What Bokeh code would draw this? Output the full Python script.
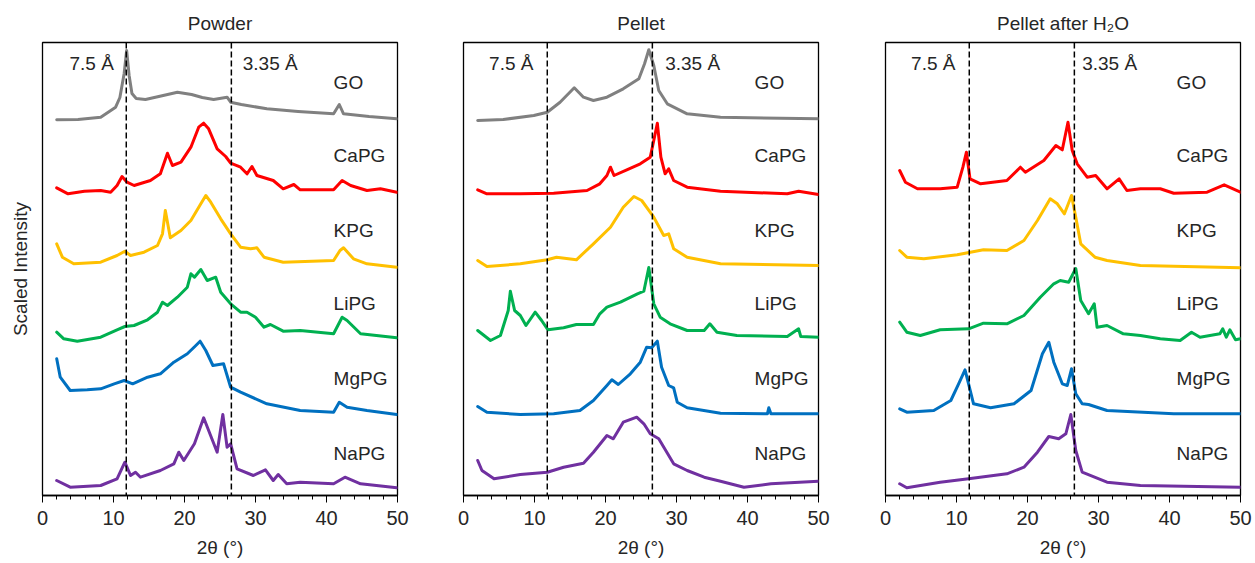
from bokeh.plotting import figure
from bokeh.layouts import row
from bokeh.models import Span, Label, FixedTicker, Range1d
from bokeh.embed import file_html
from bokeh.resources import INLINE

# ---------------- data ----------------
samples = ["GO", "CaPG", "KPG", "LiPG", "MgPG", "NaPG"]
colors = ["#808080", "#FF0000", "#FFC000", "#00B050", "#0070C0", "#7030A0"]
label_y = [413, 340, 265, 192, 117, 42]
panel_titles = ["Powder", "Pellet", "Pellet after H\u2082O"]
d_labels = ["7.5 \u00c5", "3.35 \u00c5"]
d_two_theta = [11.8, 26.6]
x_ticks = [0, 10, 20, 30, 40, 50]
x_title = "2\u03b8 (\u00b0)"
y_title = "Scaled Intensity"

# Powder
powder_GO_x = [2.0, 5.0, 8.2, 10.3, 10.9, 11.5, 11.85, 12.2, 12.6, 13.2, 14.5, 17.0, 19.0, 21.0, 22.5, 24.1, 26.0, 26.5, 28.0, 31.6, 36.0, 41.0, 41.8, 42.4, 46.0, 49.9]
powder_GO_y = [375.7, 376, 378.3, 388.3, 398, 422, 445, 420, 402, 397, 396, 400, 403.3, 401, 398, 396, 398.3, 393.3, 391, 386.7, 384, 381.7, 391, 381.7, 379, 376.7]
powder_CaPG_x = [2.0, 3.6, 5.9, 8.2, 9.6, 10.5, 11.2, 11.9, 12.9, 15.2, 16.6, 17.6, 18.3, 19.5, 20.9, 22.0, 22.7, 23.4, 24.6, 25.8, 26.5, 27.9, 28.8, 29.5, 30.2, 32.5, 33.9, 35.4, 36.3, 41.0, 42.2, 43.4, 45.7, 47.6, 49.9]
powder_CaPG_y = [307.7, 301.7, 304.3, 305, 303.3, 310, 319, 313.3, 310, 315, 321.7, 342.3, 330, 333.3, 348.3, 368.3, 372.3, 366.7, 346.7, 339, 332.3, 328.3, 321.7, 329, 320, 315, 306.7, 311, 305.7, 305.7, 315, 310, 305, 306.7, 303.3]
powder_KPG_x = [2.0, 2.8, 4.4, 8.2, 10.5, 11.6, 12.4, 14.3, 16.2, 16.9, 17.3, 18.0, 19.5, 20.9, 22.3, 23.0, 23.7, 25.1, 26.5, 27.9, 29.3, 30.2, 31.2, 33.9, 41.0, 41.9, 42.4, 43.8, 45.7, 49.9]
powder_KPG_y = [251.7, 238.3, 231.7, 233.3, 240, 244.3, 240, 243.3, 250, 261.7, 285, 257.7, 265, 275, 291.7, 300, 293.3, 276.7, 261.7, 248.3, 246.7, 247.7, 238.3, 233.3, 235, 245, 247.7, 236.7, 231.7, 228.3]
powder_LiPG_x = [2.0, 3.0, 4.9, 8.2, 10.5, 11.6, 12.9, 14.8, 16.2, 16.9, 17.6, 19.0, 20.4, 20.9, 21.4, 22.3, 23.2, 24.4, 25.1, 26.5, 27.9, 28.8, 30.0, 31.2, 32.1, 33.9, 36.3, 41.0, 42.2, 42.9, 44.8, 49.9]
powder_LiPG_y = [163.3, 156.7, 154.3, 158.3, 165.7, 169, 170, 175.7, 183.3, 193.3, 190, 198.3, 208.3, 221.7, 218.3, 226, 215, 218.3, 203.3, 191.7, 183.3, 183.3, 178.3, 168.3, 171, 164.3, 165, 161.7, 178.3, 175, 161.7, 157.7]
powder_MgPG_x = [2.0, 2.5, 3.9, 6.3, 8.2, 10.1, 11.5, 12.7, 14.8, 16.6, 18.5, 20.4, 21.6, 22.2, 23.0, 24.0, 25.5, 26.5, 27.9, 31.6, 36.3, 41.0, 41.8, 42.9, 45.7, 49.9]
powder_MgPG_y = [136.7, 118.3, 105, 105.7, 106.7, 111.7, 115, 111.7, 118.3, 121.7, 133.3, 141.7, 150, 154.3, 145, 130, 131.7, 108.3, 103.3, 91.7, 85, 83.3, 93.3, 88.3, 85, 81]
powder_NaPG_x = [2.0, 3.9, 8.2, 10.5, 11.6, 12.4, 13.1, 13.8, 16.6, 18.5, 19.2, 19.9, 21.4, 22.7, 23.4, 24.6, 25.4, 26.0, 26.5, 27.4, 29.7, 31.4, 32.5, 33.2, 34.4, 36.3, 41.0, 42.6, 44.8, 49.9]
powder_NaPG_y = [15, 8.3, 10, 16.7, 33.3, 20, 23.3, 18.3, 25, 31.7, 43.3, 35, 51.7, 77.7, 65, 43.3, 81, 48.3, 51.7, 26.7, 20, 25.7, 15, 21, 11.7, 13.3, 11.7, 18.3, 11.7, 7.7]

# Pellet
pellet_GO_x = [2.0, 5.6, 9.9, 11.8, 13.6, 15.6, 16.9, 18.3, 20.2, 22.5, 24.7, 25.5, 26.1, 26.8, 27.5, 28.7, 31.5, 36.2, 50.0]
pellet_GO_y = [375, 376, 380, 383.3, 393.3, 407.7, 398.3, 395, 398.3, 406.7, 416.7, 431.7, 445.7, 430, 405, 391.7, 381.7, 378.3, 376.7]
pellet_CaPG_x = [2.0, 3.3, 8.0, 12.7, 17.4, 19.2, 20.2, 20.7, 21.2, 23.0, 24.9, 26.3, 26.8, 27.3, 27.8, 28.4, 28.9, 29.6, 31.5, 36.2, 45.6, 47.2, 50.0]
pellet_CaPG_y = [305.7, 301.7, 301.7, 302.3, 305, 311.7, 320, 328.3, 320, 325.7, 331.7, 338.3, 355, 372.3, 338.3, 321.7, 326.7, 315, 308.3, 304.3, 301.7, 304.3, 301]
pellet_KPG_x = [2.0, 3.3, 8.0, 11.8, 13.1, 15.9, 18.3, 20.7, 22.5, 24.0, 25.1, 26.8, 28.2, 28.9, 29.6, 31.5, 36.2, 50.0]
pellet_KPG_y = [235, 229, 231.7, 235.7, 238.3, 235.7, 251.7, 268.3, 288.3, 299, 295, 278.3, 260, 261.7, 246.7, 238.3, 231.7, 230]
pellet_LiPG_x = [2.0, 3.8, 5.2, 6.3, 6.6, 7.2, 8.0, 8.8, 10.1, 11.0, 11.9, 14.1, 15.9, 18.3, 19.2, 20.2, 22.1, 24.5, 25.4, 26.1, 26.8, 27.7, 29.1, 31.5, 33.9, 34.7, 35.7, 38.5, 45.6, 47.2, 47.5, 50.0]
pellet_LiPG_y = [165, 155, 160, 185, 204.3, 185, 180, 170, 183.3, 175, 165.7, 167.7, 171, 171, 181.7, 188.3, 193.3, 201.7, 204.3, 228, 191.7, 178.3, 171.7, 165, 165, 171.7, 163.3, 160, 159, 166.7, 159, 158.3]
pellet_MgPG_x = [2.0, 3.3, 8.0, 12.7, 16.4, 18.3, 20.2, 20.9, 21.8, 23.5, 24.9, 25.8, 26.5, 27.3, 27.9, 28.9, 29.6, 30.1, 31.5, 36.2, 42.8, 43.0, 43.3, 50.0]
pellet_MgPG_y = [89, 83.3, 81, 81.7, 85, 95, 110, 115.7, 111, 121.7, 133.3, 148.3, 147.7, 154.3, 128.3, 110, 107.7, 93.3, 87.7, 82.3, 81.7, 87.7, 81.7, 81.7]
pellet_NaPG_x = [2.0, 2.6, 4.3, 8.0, 11.8, 14.1, 16.9, 18.3, 20.2, 21.1, 22.5, 24.4, 25.4, 26.3, 27.5, 29.6, 31.5, 33.9, 36.2, 39.5, 43.3, 50.0]
pellet_NaPG_y = [35, 25, 16.7, 21, 23.3, 28.3, 32.3, 43.3, 60, 56.7, 73.3, 78.3, 71.7, 61.7, 56.7, 31.7, 25, 18.3, 14.3, 8.3, 11.7, 14.3]

# Pellet after H2O (no GO trace)
water_CaPG_x = [2.0, 2.8, 4.5, 7.7, 10.1, 10.9, 11.4, 11.9, 13.4, 17.1, 19.0, 19.7, 22.3, 24.0, 24.9, 25.7, 26.3, 27.0, 28.4, 29.6, 31.2, 32.9, 34.0, 35.9, 38.7, 40.6, 45.3, 47.7, 50.0]
water_CaPG_y = [325, 313.3, 306.7, 306.7, 308.3, 328.3, 343.3, 316.7, 311.7, 315, 328.3, 323.3, 335, 350, 345.7, 373.3, 345, 331.7, 318.3, 320, 306.7, 316.7, 305, 306.7, 306.7, 302.3, 303.3, 310.7, 303.3]
water_KPG_x = [2.0, 3.0, 5.4, 10.1, 13.8, 17.1, 19.5, 21.4, 23.2, 24.2, 25.2, 26.2, 26.8, 27.5, 29.5, 31.2, 35.9, 50.0]
water_KPG_y = [245, 238.3, 236.7, 240.7, 245.7, 245, 255, 275, 296.7, 291.7, 281.7, 300, 278.3, 251.7, 238.3, 235, 230, 227.7]
water_LiPG_x = [2.0, 3.0, 4.9, 7.7, 11.7, 13.8, 17.1, 19.5, 21.8, 23.7, 24.6, 25.8, 26.8, 27.5, 28.6, 29.4, 29.8, 31.2, 33.5, 35.9, 38.7, 41.5, 43.1, 44.3, 47.1, 47.5, 48.0, 48.5, 49.3, 50.0]
water_LiPG_y = [173.3, 163.3, 160, 165.7, 166.7, 172.3, 171.7, 180, 198.3, 211.7, 215, 213.3, 227, 195, 181.7, 191.7, 168.3, 170, 161.7, 160, 156.7, 155, 163.3, 158.3, 161.7, 166.7, 158.3, 165.7, 155.7, 156.7]
water_MgPG_x = [2.0, 3.0, 6.8, 9.2, 10.3, 11.2, 11.7, 12.4, 14.8, 18.1, 20.5, 22.1, 23.0, 23.7, 24.9, 25.6, 26.2, 26.8, 27.7, 28.6, 31.2, 40.6, 50.0]
water_MgPG_y = [86.7, 83.3, 85, 95, 111.7, 125.7, 111.7, 91.7, 87.7, 91.7, 105, 141.7, 153.3, 133.3, 111.7, 110, 126.7, 101.7, 91.7, 91, 85, 81.7, 81.7]
water_NaPG_x = [2.0, 3.0, 7.7, 11.7, 17.1, 19.5, 21.4, 23.0, 24.4, 25.4, 26.1, 26.8, 27.7, 31.2, 35.9, 50.0]
water_NaPG_y = [11.7, 7.7, 13.3, 16.7, 21.7, 28.3, 43.3, 59, 56.7, 61.7, 81, 45, 23.3, 13.3, 10, 8.3]

panel_traces = [
    [(powder_GO_x, powder_GO_y), (powder_CaPG_x, powder_CaPG_y), (powder_KPG_x, powder_KPG_y),
     (powder_LiPG_x, powder_LiPG_y), (powder_MgPG_x, powder_MgPG_y), (powder_NaPG_x, powder_NaPG_y)],
    [(pellet_GO_x, pellet_GO_y), (pellet_CaPG_x, pellet_CaPG_y), (pellet_KPG_x, pellet_KPG_y),
     (pellet_LiPG_x, pellet_LiPG_y), (pellet_MgPG_x, pellet_MgPG_y), (pellet_NaPG_x, pellet_NaPG_y)],
    [None, (water_CaPG_x, water_CaPG_y), (water_KPG_x, water_KPG_y),
     (water_LiPG_x, water_LiPG_y), (water_MgPG_x, water_MgPG_y), (water_NaPG_x, water_NaPG_y)],
]

# ---------------- layout ----------------
FONT = "Liberation Sans"
TXT = "#262626"
Y_MAX = 453.0
FRAME_H = 453
layout_specs = [  # (border_left, frame_width, border_right)
    (42, 355, 22),
    (44, 355, 22),
    (45, 355, 14),
]
dlabel_x = [[3.8, 28.2], [3.6, 28.4], [3.6, 27.7]]

figs = []
for i in range(3):
    bl, fw, br = layout_specs[i]
    p = figure(frame_width=fw, frame_height=FRAME_H,
               min_border_left=bl, min_border_right=br,
               min_border_top=42, min_border_bottom=66,
               x_range=Range1d(0, 50), y_range=Range1d(0, Y_MAX),
               output_backend="svg", toolbar_location=None)
    p.title.text = panel_titles[i]
    p.title.align = "center"
    p.title.text_font = FONT
    p.title.text_font_size = "19px"
    p.title.text_font_style = "normal"
    p.title.text_color = TXT
    p.title.standoff = 18
    p.xgrid.visible = False
    p.ygrid.visible = False
    p.outline_line_color = "black"
    p.outline_line_width = 1.3
    p.background_fill_color = "white"
    p.border_fill_color = "white"

    yax = p.yaxis[0]
    if i == 0:
        yax.ticker = FixedTicker(ticks=[])
        yax.major_tick_out = 0
        yax.major_tick_in = 0
        yax.minor_tick_out = 0
        yax.minor_tick_in = 0
        yax.axis_line_color = None
        yax.major_label_text_font_size = "0px"
        yax.axis_label = y_title
        yax.axis_label_text_font = FONT
        yax.axis_label_text_font_size = "19px"
        yax.axis_label_text_font_style = "normal"
        yax.axis_label_text_color = TXT
        yax.axis_label_standoff = 12
    else:
        yax.visible = False

    ax = p.xaxis[0]
    ax.ticker = FixedTicker(ticks=x_ticks,
                            minor_ticks=[t for t in range(0, 51, 2) if t % 10])
    ax.axis_line_color = "black"
    ax.axis_line_width = 1.3
    ax.major_tick_in = 0
    ax.major_tick_out = 7
    ax.minor_tick_in = 0
    ax.minor_tick_out = 4
    ax.major_tick_line_color = "black"
    ax.minor_tick_line_color = "black"
    ax.major_label_text_font = FONT
    ax.major_label_text_font_size = "20px"
    ax.major_label_text_color = TXT
    ax.major_label_standoff = 8
    ax.axis_label = x_title
    ax.axis_label_text_font = FONT
    ax.axis_label_text_font_size = "19px"
    ax.axis_label_text_font_style = "normal"
    ax.axis_label_text_color = TXT
    ax.axis_label_standoff = 9

    for loc in d_two_theta:
        p.add_layout(Span(location=loc, dimension="height", line_color="black",
                          line_dash="6 3", line_width=1.5))

    for j, tr in enumerate(panel_traces[i]):
        if tr is not None:
            p.line(tr[0], tr[1], line_color=colors[j], line_width=3,
                   line_join="round", line_cap="round")
        p.add_layout(Label(x=41.0, y=label_y[j], text=samples[j],
                           text_font=FONT, text_font_size="19px", text_color=TXT,
                           text_baseline="middle", text_align="left"))

    for k in range(2):
        p.add_layout(Label(x=dlabel_x[i][k], y=431.7, text=d_labels[k],
                           text_font=FONT, text_font_size="19px", text_color=TXT,
                           text_baseline="middle", text_align="left"))
    figs.append(p)

layout = row(*figs)
open("out.html", "w").write(file_html(layout, INLINE))
